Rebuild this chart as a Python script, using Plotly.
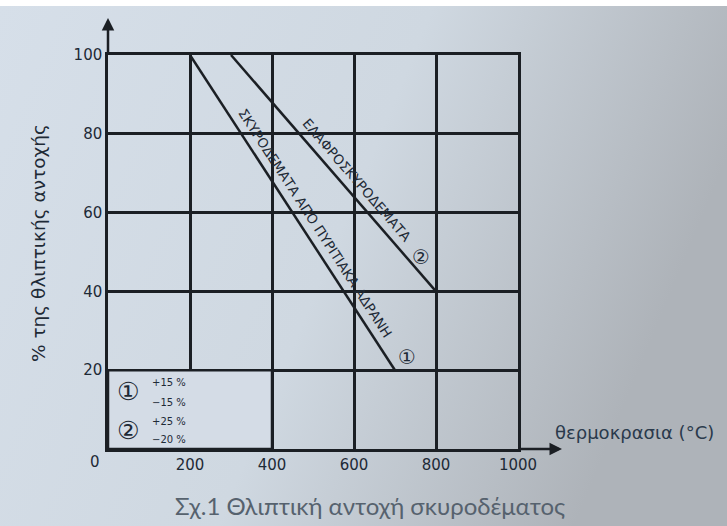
import base64
import math
import plotly.graph_objects as go

# ---- data ----
line1_x = [200, 700]
line1_y = [100, 20]
line2_x = [300, 800]
line2_y = [100, 40]
line1_label = "ΣΚΥΡΟΔΕΜΑΤΑ ΑΠΟ ΠΥΡΙΤΙΑΚΑ ΑΔΡΑΝΗ"
line2_label = "ΕΛΑΦΡΟΣΚΥΡΟΔΕΜΑΤΑ"
line_marks = ["①", "②"]
legend_rows = [("①", "+15 %", "−15 %"), ("②", "+25 %", "−20 %")]
x_ticks = [200, 400, 600, 800, 1000]
y_ticks = [20, 40, 60, 80, 100]
x_title = "θερμοκρασια (°C)"
y_title = "% της θλιπτικής αντοχής"
caption = "Σχ.1 Θλιπτική αντοχή σκυροδέματος"

W, H = 727, 526
L, R, T, B = 108, 209, 55, 77
PW, PH = W - L - R, H - T - B
INK = "#1b1f24"
TXT = "#1e2a36"

# background gradient (photo-like)
svg = f'''<svg xmlns="http://www.w3.org/2000/svg" width="{W}" height="{H}">
<defs><linearGradient id="g" x1="0" y1="0" x2="1" y2="0.3">
<stop offset="0" stop-color="#d6dfe9"/><stop offset="0.55" stop-color="#cfd8e1"/>
<stop offset="1" stop-color="#aeb3b9"/></linearGradient></defs>
<rect width="{W}" height="{H}" fill="url(#g)"/></svg>'''
bg_src = "data:image/svg+xml;base64," + base64.b64encode(svg.encode()).decode()

fig = go.Figure()
for xs, ys in [(line1_x, line1_y), (line2_x, line2_y)]:
    fig.add_trace(go.Scatter(x=xs, y=ys, mode="lines",
                             line=dict(color=INK, width=2.5),
                             showlegend=False, hoverinfo="skip", cliponaxis=False))


def along(xs, ys, t, off, text, size, rotate=True):
    sx, sy = PW / 1000.0, PH / 100.0
    dx = (xs[1] - xs[0]) * sx
    dy = -(ys[1] - ys[0]) * sy  # screen, down positive
    ln = math.hypot(dx, dy)
    ux, uy = dx / ln, dy / ln
    nx, ny = uy, -ux  # right-up normal (screen coords)
    ang = math.degrees(math.atan2(dy, dx))
    fig.add_annotation(x=xs[0] + t * (xs[1] - xs[0]), y=ys[0] + t * (ys[1] - ys[0]),
                       xref="x", yref="y", text=text, showarrow=False,
                       xanchor="center", yanchor="middle",
                       textangle=ang if rotate else 0,
                       xshift=nx * off, yshift=-ny * off,
                       font=dict(family="DejaVu Sans", size=size, color=TXT))


along(line1_x, line1_y, 0.557, 13, line1_label, 13.5)
along(line2_x, line2_y, 0.566, 13, line2_label, 13.5)
along(line1_x, line1_y, 0.987, 17, line_marks[0], 20, False)
along(line2_x, line2_y, 0.887, 11, line_marks[1], 20, False)

# legend box inside plot
fig.add_shape(type="rect", x0=0, x1=400, y0=0, y1=20, xref="x", yref="y",
              fillcolor="#d4dce6", line=dict(color=INK, width=2.5), layer="above")
row_y = [[14.5, 16.8, 11.7], [4.8, 6.9, 2.3]]
for (mark, a, b), (yc, ya, yb) in zip(legend_rows, row_y):
    fig.add_annotation(x=49, y=yc, text=mark, showarrow=False, xanchor="center", yanchor="middle",
                       font=dict(family="DejaVu Sans", size=25, color=TXT))
    fig.add_annotation(x=102, y=ya, text=a, showarrow=False, xanchor="left", yanchor="middle",
                       font=dict(family="DejaVu Sans", size=10, color=TXT))
    fig.add_annotation(x=102, y=yb, text=b, showarrow=False, xanchor="left", yanchor="middle",
                       font=dict(family="DejaVu Sans", size=10, color=TXT))

# axis arrows
fig.add_annotation(x=0, y=1 + 37 / PH, xref="paper", yref="paper", ax=0, ay=37,
                   showarrow=True, arrowhead=2, arrowsize=1, arrowwidth=2.5, arrowcolor=INK, text="")
fig.add_annotation(x=1 + 44 / PW, y=0, xref="paper", yref="paper", ax=-44, ay=0,
                   showarrow=True, arrowhead=2, arrowsize=1, arrowwidth=2.5, arrowcolor=INK, text="")


def paper_text(px, py, text, size, family, color, xanchor="center", angle=0):
    fig.add_annotation(x=(px - L) / PW, y=(T + PH - py) / PH, xref="paper", yref="paper",
                       text=text, showarrow=False, xanchor=xanchor, yanchor="middle",
                       textangle=angle, font=dict(family=family, size=size, color=color))


paper_text(95, 462, "0", 15, "DejaVu Sans", TXT)
paper_text(553, 432, x_title, 18, "DejaVu Sans", "#2a3a4c", xanchor="left")
paper_text(38, 243, y_title, 18.5, "DejaVu Sans", TXT, angle=-90)
paper_text(370, 505, caption, 24, "Lato, Open Sans", "#56626e")

# top white strip
fig.add_shape(type="rect", xref="paper", yref="paper", x0=-L / PW, x1=(W - L) / PW,
              y0=1 + (T - 6) / PH, y1=1 + T / PH, fillcolor="white", line=dict(width=0), layer="above")

axis_common = dict(showline=True, mirror=True, linecolor=INK, linewidth=2.5,
                   showgrid=True, gridcolor=INK, gridwidth=2.5, zeroline=False,
                   ticks="", automargin=False,
                   tickfont=dict(family="DejaVu Sans", size=15, color=TXT))
fig.update_xaxes(range=[0, 1000], tickvals=x_ticks, ticktext=[str(v) for v in x_ticks], **axis_common)
fig.update_yaxes(range=[0, 100], tickvals=y_ticks, ticktext=[str(v) for v in y_ticks], **axis_common)

fig.update_layout(width=W, height=H, margin=dict(l=L, r=R, t=T, b=B),
                  paper_bgcolor="rgba(0,0,0,0)", plot_bgcolor="rgba(0,0,0,0)",
                  images=[dict(source=bg_src, xref="paper", yref="paper",
                               x=-L / PW, y=1 + T / PH, sizex=W / PW, sizey=H / PH,
                               xanchor="left", yanchor="top", sizing="stretch", layer="below")])

fig.write_html("out.html")
